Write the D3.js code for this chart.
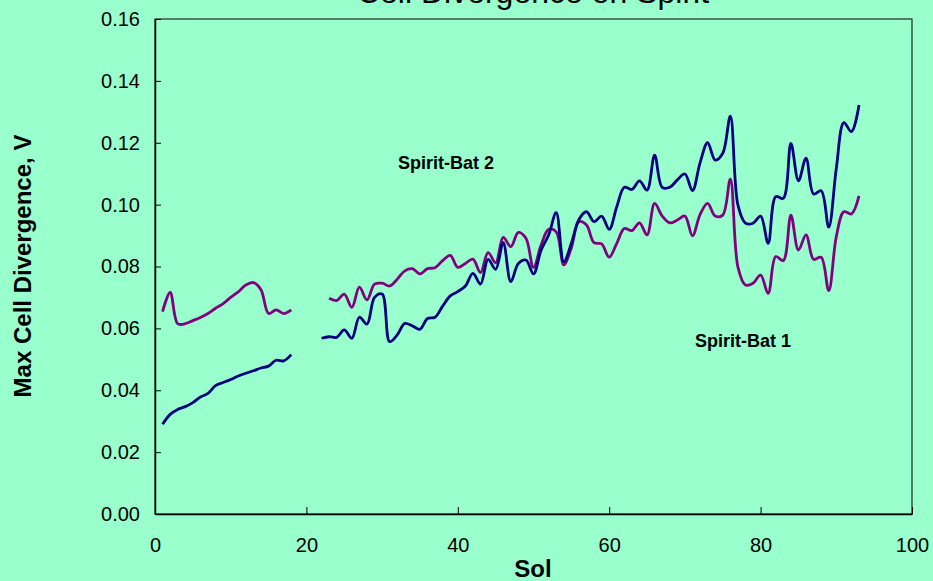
<!DOCTYPE html>
<html><head><meta charset="utf-8">
<script src="https://cdn.jsdelivr.net/npm/d3@7"></script>
<style>body{margin:0;background:#99FFCC;}svg{display:block;font-family:Arial,"Liberation Sans",sans-serif;}</style>
</head><body>
<svg id="c" width="933" height="581"></svg>
<script>
const sols = d3.range(1, 94);
// Spirit-Bat 1 (navy) values, sols 1..93 (null = no data)
const bat1 = [0.0290,0.0322,0.0338,0.0347,0.0360,0.0378,0.0390,0.0415,0.0425,0.0435,
0.0446,0.0455,0.0463,0.0472,0.0478,0.0497,0.0495,0.0515,null,null,
null,0.0568,0.0573,0.0571,0.0595,0.0568,0.0636,0.0614,0.0700,0.0711,
0.0557,0.0579,0.0616,0.0608,0.0597,0.0632,0.0636,0.0672,0.0705,0.0719,
0.0737,0.0778,0.0743,0.0823,0.0791,0.0877,0.0751,0.0810,0.0821,0.0776,
0.0853,0.0902,0.0974,0.0815,0.0875,0.0952,0.0977,0.0945,0.0963,0.0920,
0.0993,0.1056,0.1049,0.1077,0.1047,0.1160,0.1056,0.1056,0.1080,0.1099,
0.1045,0.1135,0.1200,0.1144,0.1166,0.1286,0.0999,0.0940,0.0940,0.0963,
0.0875,0.1026,0.1020,0.1198,0.1077,0.1150,0.1034,0.1045,0.0927,0.1117,
0.1265,0.1236,0.1322];
// Spirit-Bat 2 (purple) values, sols 1..93
const bat2 = [0.0654,0.0716,0.0615,0.0615,0.0625,0.0635,0.0648,0.0665,0.0680,0.0700,
0.0718,0.0740,0.0748,0.0725,0.0648,0.0660,0.0648,0.0660,null,null,
null,null,0.0697,0.0690,0.0711,0.0668,0.0733,0.0692,0.0743,0.0746,
0.0737,0.0759,0.0786,0.0793,0.0776,0.0793,0.0796,0.0819,0.0836,0.0797,
0.0810,0.0824,0.0780,0.0845,0.0812,0.0894,0.0864,0.0910,0.0891,0.0797,
0.0869,0.0920,0.0912,0.0805,0.0860,0.0945,0.0934,0.0877,0.0873,0.0830,
0.0875,0.0923,0.0916,0.0941,0.0902,0.1004,0.0963,0.0941,0.0950,0.0963,
0.0899,0.0968,0.1004,0.0963,0.0966,0.1082,0.0799,0.0740,0.0746,0.0772,
0.0713,0.0832,0.0819,0.0966,0.0853,0.0902,0.0823,0.0830,0.0722,0.0896,
0.0977,0.0970,0.1028];
const xTicks = [0,20,40,60,80,100];
const yTicks = [0,0.02,0.04,0.06,0.08,0.10,0.12,0.14,0.16];

const svg = d3.select("#c");
const L=155, R=912, T=19, B=514;
const x = d3.scaleLinear().domain([0,100]).range([L,R]);
const y = d3.scaleLinear().domain([0,0.16]).range([B,T]);
const FF = "Arial, 'Liberation Sans', sans-serif";

svg.append("rect").attr("width",933).attr("height",581).attr("fill","#99FFCC");
svg.append("rect").attr("x",L).attr("y",T).attr("width",R-L).attr("height",B-T)
  .attr("fill","#99FFCC").attr("stroke","#000").attr("stroke-width",1);

const ya = svg.append("g").attr("transform",`translate(${L},0)`)
  .call(d3.axisLeft(y).tickValues(yTicks).tickFormat(d3.format(".2f")).tickSizeInner(-6).tickSizeOuter(0).tickPadding(15));
ya.select(".domain").attr("stroke","#000").attr("stroke-width",1.5);
ya.selectAll("text").attr("font-size",20).attr("fill","#000").attr("font-family",FF);

const xa = svg.append("g").attr("transform",`translate(0,${B})`)
  .call(d3.axisBottom(x).tickValues(xTicks).tickFormat(d3.format("d")).tickSizeInner(-7).tickSizeOuter(0).tickPadding(24));
xa.select(".domain").attr("stroke","#000").attr("stroke-width",1.5);
xa.selectAll("text").attr("font-size",20).attr("fill","#000").attr("font-family",FF);

const line = vals => d3.line()
  .defined((d,i)=>vals[i]!==null)
  .x((d,i)=>x(sols[i])).y((d,i)=>y(vals[i]))
  .curve(d3.curveCatmullRom.alpha(0.5))(vals);

svg.append("path").attr("d",line(bat2)).attr("fill","none").attr("stroke","#800080").attr("stroke-width",2.8);
svg.append("path").attr("d",line(bat1)).attr("fill","none").attr("stroke","#000080").attr("stroke-width",2.8);

svg.append("text").attr("x",533).attr("y",3).attr("text-anchor","middle").attr("font-size",32).text("Cell Divergence on Spirit");
svg.append("text").attr("x",533).attr("y",577).attr("text-anchor","middle").attr("font-size",24).attr("font-weight","bold").text("Sol");
svg.append("text").attr("transform","translate(31,266) rotate(-90)").attr("text-anchor","middle").attr("font-size",24).attr("font-weight","bold").text("Max Cell Divergence, V");
svg.append("text").attr("x",446).attr("y",169).attr("text-anchor","middle").attr("font-size",18).attr("font-weight","bold").text("Spirit-Bat 2");
svg.append("text").attr("x",743).attr("y",347).attr("text-anchor","middle").attr("font-size",18).attr("font-weight","bold").text("Spirit-Bat 1");
</script>
</body></html>
